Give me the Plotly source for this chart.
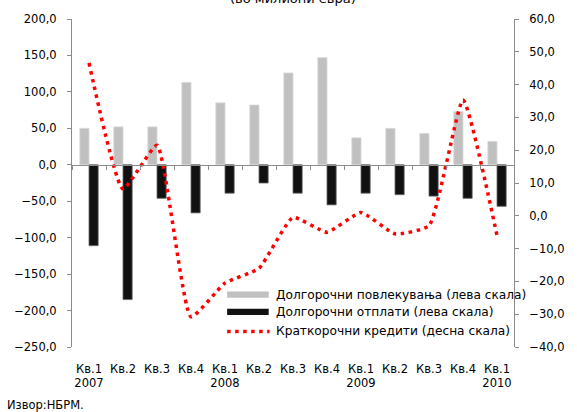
import plotly.graph_objects as go

# Quarterly data, 2007 Q1 - 2010 Q1
quarters = ["2007-Q1", "2007-Q2", "2007-Q3", "2007-Q4",
            "2008-Q1", "2008-Q2", "2008-Q3", "2008-Q4",
            "2009-Q1", "2009-Q2", "2009-Q3", "2009-Q4",
            "2010-Q1"]
tick_labels = ["Кв.1<br>2007", "Кв.2", "Кв.3", "Кв.4",
               "Кв.1<br>2008", "Кв.2", "Кв.3", "Кв.4",
               "Кв.1<br>2009", "Кв.2", "Кв.3", "Кв.4",
               "Кв.1<br>2010"]

# Long-term drawings (left scale)
drawings = [50, 52, 52, 113, 85, 82, 126, 147, 37, 50, 43, 73, 32]
# Long-term repayments (left scale)
repayments = [-111, -185, -46, -66, -39, -25, -39, -55, -39, -41, -43, -46, -57]
# Short-term credits (right scale)
short_term = [46.6, 8.2, 21.5, -30.8, -20.5, -16.0, -0.5, -5.0, 1.0, -5.5, -3.0, 35.3, -6.0]

name_draw = "Долгорочни повлекувања (лева скала)"
name_repay = "Долгорочни отплати (лева скала)"
name_short = "Краткорочни кредити (десна скала)"

FONT = "DejaVu Sans"
GRAY = "#C0C0C0"
BLACK = "#111111"
RED = "#FF0000"
AXIS = "#8C8C8C"
DOTS = "3.5px,4.5px"

fig = go.Figure()

fig.add_trace(go.Bar(
    x=quarters, y=drawings, name=name_draw, xaxis="x", yaxis="y",
    marker=dict(color=GRAY, line=dict(color="#D8D8D8", width=0.8)),
    showlegend=False,
))
fig.add_trace(go.Bar(
    x=quarters, y=repayments, name=name_repay, xaxis="x", yaxis="y",
    marker=dict(color=BLACK, line=dict(color="#666666", width=0.8)),
    showlegend=False,
))
fig.add_trace(go.Scatter(
    x=quarters, y=short_term, name=name_short, xaxis="x2", yaxis="y2",
    mode="lines", line=dict(color=RED, width=3.5, dash=DOTS, shape="spline", smoothing=0.45),
    showlegend=False,
))

tick_font = dict(family=FONT, size=11.5, color="#000000")

fig.update_layout(
    width=577, height=412,
    margin=dict(l=72, r=49, t=19, b=65),
    paper_bgcolor="white", plot_bgcolor="white",
    separators=",.",
    barmode="group", bargap=0.46, bargroupgap=0,
    font=dict(family=FONT, size=11.5, color="#000000"),
    xaxis=dict(
        type="category", categoryarray=quarters, categoryorder="array",
        range=[-0.5, len(quarters) - 0.5],
        tickvals=quarters, ticktext=tick_labels,
        showline=False, showgrid=False, zeroline=False, ticks="",
        tickfont=tick_font, ticklabelstandoff=13,
    ),
    # category axis drawn along the zero line of the left scale
    xaxis2=dict(
        type="category", categoryarray=quarters, categoryorder="array",
        range=[-0.5, len(quarters) - 0.5],
        overlaying="x", anchor="free", position=250 / 450,
        showline=True, linecolor=AXIS, linewidth=1,
        ticks="outside", tickson="boundaries", ticklen=4, tickcolor=AXIS,
        showticklabels=False, showgrid=False, zeroline=False,
    ),
    yaxis=dict(
        range=[-250, 200], dtick=50, tickformat=".1f",
        showline=True, linecolor=AXIS, linewidth=1,
        ticks="outside", ticklen=4, tickcolor=AXIS,
        showgrid=False, zeroline=False,
        tickfont=tick_font, ticklabelstandoff=8,
    ),
    yaxis2=dict(
        range=[-40, 60], dtick=10, tickformat=".1f",
        overlaying="y", side="right", anchor="x2",
        showline=True, linecolor=AXIS, linewidth=1,
        ticks="outside", ticklen=4, tickcolor=AXIS,
        showgrid=False, zeroline=False,
        tickfont=tick_font, ticklabelstandoff=8,
    ),
)

# Legend drawn inside the plot area
legend_rows = [
    (name_draw, "bar", GRAY, 0.160),
    (name_repay, "bar", BLACK, 0.107),
    (name_short, "dots", RED, 0.050),
]
for text, kind, color, yc in legend_rows:
    if kind == "bar":
        fig.add_shape(type="rect", xref="paper", yref="paper",
                      x0=0.351, x1=0.445, y0=yc - 0.0095, y1=yc + 0.0095,
                      fillcolor=color, line=dict(width=0))
    else:
        fig.add_shape(type="line", xref="paper", yref="paper",
                      x0=0.351, x1=0.447, y0=yc - 0.003, y1=yc - 0.003,
                      line=dict(color=color, width=3.5, dash=DOTS))
    fig.add_annotation(text=text, xref="paper", yref="paper",
                       x=0.456, y=yc, xanchor="left", yanchor="middle",
                       showarrow=False, font=dict(family=FONT, size=12.2))

# Unit line above the plot
fig.add_annotation(text="(во милиони евра)", xref="paper", yref="paper",
                   x=(300 - 72) / 456, y=1 + 20 / 328, xanchor="center", yanchor="middle",
                   showarrow=False, font=dict(family=FONT, size=13))

# Source
fig.add_annotation(text="Извор:НБРМ.", xref="paper", yref="paper",
                   x=-69 / 456, y=-58 / 328, xanchor="left", yanchor="middle",
                   showarrow=False, font=dict(family=FONT, size=11.5))

fig.write_html("out.html")
